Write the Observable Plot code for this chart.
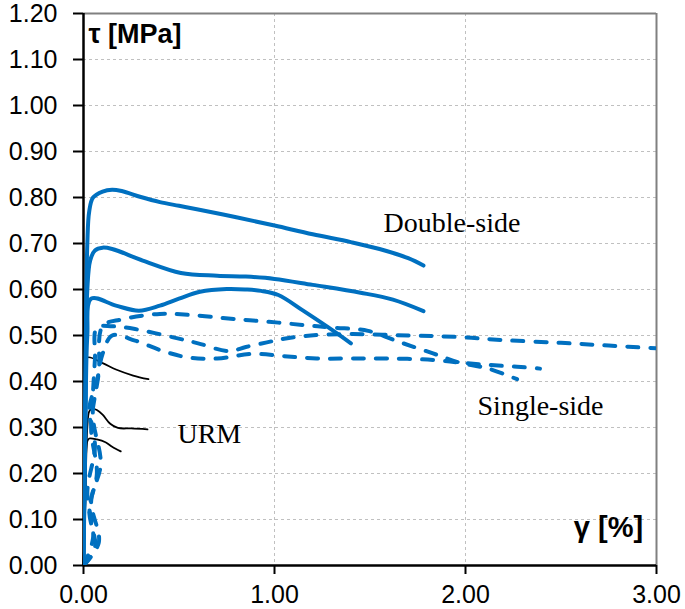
<!DOCTYPE html>
<html>
<head>
<meta charset="utf-8">
<script src="https://cdn.jsdelivr.net/npm/d3@7"></script>
<script src="https://cdn.jsdelivr.net/npm/@observablehq/plot@0.6"></script>
<style>
  html, body { margin: 0; padding: 0; background: #fff; }
  #chart svg { display: block; }
</style>
</head>
<body>
<div id="chart"></div>
<script>
// ---- Data ----
const xTicks = [0, 1, 2, 3];
const yTicks = [0, 0.1, 0.2, 0.3, 0.4, 0.5, 0.6, 0.7, 0.8, 0.9, 1.0, 1.1, 1.2];
const xLabel = "γ [%]";
const yLabel = "τ [MPa]";

// Double-side (solid blue)
const doubleSide1 = [[0,0],[0.01,0.4],[0.02,0.7],[0.03,0.77],[0.05,0.80],[0.1,0.813],[0.15,0.817],[0.2,0.814],[0.3,0.801],[0.4,0.79],[0.5,0.782],[0.6,0.774],[0.8,0.757],[1.0,0.739],[1.2,0.72],[1.4,0.703],[1.55,0.688],[1.7,0.668],[1.78,0.652]];
const doubleSide2 = [[0,0],[0.01,0.35],[0.02,0.6],[0.035,0.663],[0.06,0.685],[0.1,0.691],[0.15,0.688],[0.31,0.663],[0.51,0.636],[0.7,0.63],[0.85,0.628],[1.0,0.623],[1.2,0.61],[1.45,0.593],[1.62,0.578],[1.78,0.553]];
const doubleSide3 = [[0,0],[0.01,0.3],[0.02,0.5],[0.04,0.58],[0.17,0.565],[0.29,0.554],[0.4,0.565],[0.5,0.58],[0.61,0.595],[0.75,0.601],[0.85,0.6],[0.93,0.597],[1.02,0.588],[1.15,0.554],[1.28,0.518],[1.40,0.483]];

// Single-side (dashed blue)
const singleSide1 = [[0,0],[0.06,0.04],[0.03,0.12],[0.07,0.2],[0.04,0.3],[0.08,0.42],[0.1,0.52],[0.2,0.535],[0.4,0.547],[0.55,0.545],[0.73,0.538],[0.87,0.533],[1.02,0.528],[1.17,0.522],[1.31,0.517],[1.49,0.51],[1.66,0.485],[1.83,0.461],[1.97,0.441],[2.12,0.428],[2.27,0.405]];
const singleSide2 = [[0,0],[0.08,0.05],[0.04,0.14],[0.09,0.22],[0.05,0.32],[0.06,0.45],[0.07,0.517],[0.15,0.52],[0.27,0.514],[0.47,0.496],[0.6,0.483],[0.76,0.466],[0.85,0.475],[0.96,0.485],[1.05,0.493],[1.19,0.5],[1.4,0.503],[1.7,0.5],[1.95,0.497],[2.2,0.49],[2.5,0.484],[2.75,0.478],[3.0,0.472]];
const singleSide3 = [[0,0],[0.05,0.06],[0.02,0.16],[0.06,0.26],[0.03,0.34],[0.07,0.4],[0.1,0.46],[0.15,0.5],[0.27,0.489],[0.41,0.467],[0.55,0.452],[0.7,0.45],[0.88,0.46],[1.05,0.455],[1.22,0.45],[1.4,0.45],[1.6,0.45],[1.83,0.447],[1.97,0.441],[2.12,0.436],[2.27,0.432],[2.39,0.428]];

// URM (thin black)
const urm1 = [[0,0],[0.005,0.2],[0.01,0.40],[0.02,0.452],[0.1,0.44],[0.17,0.426],[0.26,0.413],[0.34,0.405]];
const urm2 = [[0,0],[0.01,0.15],[0.02,0.30],[0.03,0.335],[0.045,0.341],[0.07,0.338],[0.1,0.328],[0.14,0.308],[0.18,0.299],[0.25,0.298],[0.335,0.296]];
const urm3 = [[0,0],[0.01,0.14],[0.02,0.27],[0.03,0.276],[0.07,0.274],[0.115,0.268],[0.15,0.258],[0.195,0.248]];

// Annotation text and its anchor (data units)
const annotations = [
  {label: "Double-side", x: 1.571, y: 0.726},
  {label: "Single-side", x: 2.063, y: 0.328},
  {label: "URM", x: 0.492, y: 0.267}
];
const yLabelPos = {x: 0.026, y: 1.135};
const xLabelPos = {x: 2.93, y: 0.063};

// ---- Build table ----
function toRows(arr, name, group) {
  return arr.map(([x, y], i) => ({x, y, name, group, i}));
}
const solidRows = [
  ...toRows(doubleSide1, "ds1", "Double-side"),
  ...toRows(doubleSide2, "ds2", "Double-side"),
  ...toRows(doubleSide3, "ds3", "Double-side")
];
const dashedRows = [
  ...toRows(singleSide1, "ss1", "Single-side"),
  ...toRows(singleSide2, "ss2", "Single-side"),
  ...toRows(singleSide3, "ss3", "Single-side")
];
const urmRows = [
  ...toRows(urm1, "u1", "URM"),
  ...toRows(urm2, "u2", "URM"),
  ...toRows(urm3, "u3", "URM")
];

const blue = "#0070C0";

const chart = Plot.plot({
  width: 685,
  height: 609,
  marginLeft: 83,
  marginRight: 29,
  marginTop: 13,
  marginBottom: 44,
  style: {fontFamily: "'Liberation Sans', Arial, sans-serif", background: "#fff", overflow: "visible"},
  x: {domain: [0, 3]},
  y: {domain: [0, 1.2]},
  marks: [
    Plot.gridY(yTicks.filter(d => d > 0 && d < 1.2), {stroke: "#c0c0c0", strokeOpacity: 1, strokeDasharray: "3,3", strokeWidth: 1}),
    Plot.gridX(xTicks.filter(d => d > 0 && d < 3), {stroke: "#c0c0c0", strokeOpacity: 1, strokeDasharray: "3,3", strokeWidth: 1}),
    Plot.ruleY([1.2], {stroke: "#808080", strokeWidth: 2}),
    Plot.ruleX([3], {stroke: "#808080", strokeWidth: 2}),
    Plot.axisY(yTicks, {tickFormat: d => d.toFixed(2), tickSize: 10, tickPadding: 16, fontSize: 25, strokeWidth: 2, label: null, stroke: "#000", fill: "#000", letterSpacing: "0.5px"}),
    Plot.axisX(xTicks, {tickFormat: d => d.toFixed(2), tickSize: 9, tickPadding: 11, fontSize: 25, strokeWidth: 2, label: null, stroke: "#000", fill: "#000", letterSpacing: "0.5px"}),
    Plot.ruleX([0], {stroke: "#000", strokeWidth: 2.5}),
    Plot.ruleY([0], {stroke: "#000", strokeWidth: 2.5}),
    Plot.line(urmRows, {x: "x", y: "y", z: "name", stroke: "#000", strokeWidth: 1.8, curve: "catmull-rom"}),
    Plot.line(dashedRows, {x: "x", y: "y", z: "name", stroke: blue, strokeWidth: 4, strokeDasharray: "11,12", strokeLinecap: "round", curve: "catmull-rom", clip: true}),
    Plot.line(solidRows, {x: "x", y: "y", z: "name", stroke: blue, strokeWidth: 4, curve: "catmull-rom", clip: true}),
    Plot.text(annotations, {x: "x", y: "y", text: "label", textAnchor: "start", lineAnchor: "bottom", fontSize: 28, fontFamily: "'Liberation Serif', 'Times New Roman', serif", fill: "#000"}),
    Plot.text([yLabel], {x: yLabelPos.x, y: yLabelPos.y, text: d => d, textAnchor: "start", lineAnchor: "bottom", fontSize: 27, fontWeight: "bold", fill: "#000", letterSpacing: "1.5px"}),
    Plot.text([xLabel], {x: xLabelPos.x, y: xLabelPos.y, text: d => d, textAnchor: "end", lineAnchor: "bottom", fontSize: 29, fontWeight: "bold", fill: "#000", letterSpacing: "1.5px"})
  ]
});
document.getElementById("chart").appendChild(chart);
</script>
</body>
</html>
